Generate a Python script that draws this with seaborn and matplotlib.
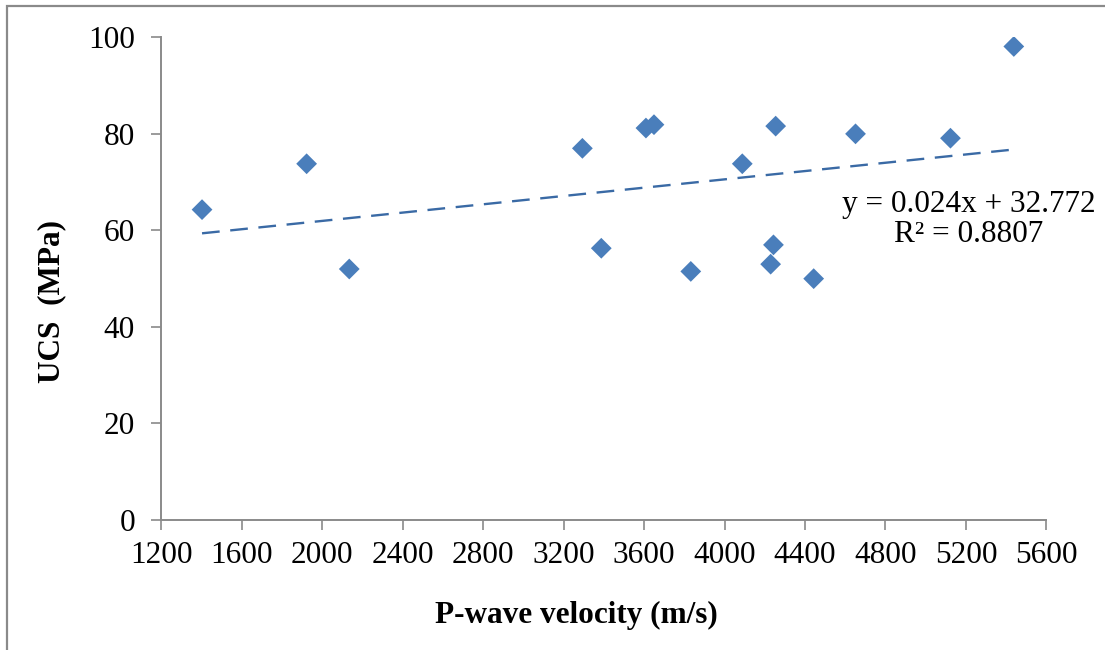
import numpy as np
import pandas as pd
import seaborn as sns
import matplotlib
matplotlib.use("Agg")
import matplotlib.pyplot as plt
from matplotlib.patches import Rectangle

# Data
vp = [1402, 1922, 2134, 3293, 3387, 3609, 3649, 3832, 4088, 4229, 4243, 4254, 4443, 4651, 5123, 5438]
ucs = [64.3, 73.8, 52.0, 77.0, 56.3, 81.2, 81.9, 51.5, 73.8, 53.0, 57.0, 81.6, 50.0, 80.0, 79.1, 98.1]
x_ticks = [1200, 1600, 2000, 2400, 2800, 3200, 3600, 4000, 4400, 4800, 5200, 5600]
y_ticks = [0, 20, 40, 60, 80, 100]
eq_text = "y = 0.024x + 32.772\nR\u00b2 = 0.8807"

df = pd.DataFrame({"vp": vp, "ucs": ucs})

sns.set_theme(style="white")
plt.rcParams["font.family"] = ["Liberation Serif", "DejaVu Serif"]
plt.rcParams["text.color"] = "black"
plt.rcParams["xtick.color"] = "black"
plt.rcParams["ytick.color"] = "black"
plt.rcParams["axes.labelcolor"] = "black"

W, H = 1105, 650
fig = plt.figure(figsize=(W / 100, H / 100), dpi=100)
left, right, top, bottom = 161.4, 1046.4, 37.3, 520.0
ax = fig.add_axes([left / W, 1 - bottom / H, (right - left) / W, (bottom - top) / H])

# outer chart border (only top and left visible in reference)
fig.patches.append(Rectangle((7 / W, -0.1), 1.2, 1 - 6 / H + 0.1, transform=fig.transFigure,
                             fill=False, edgecolor="#8a8a8a", linewidth=1.6, zorder=0))

sns.regplot(data=df, x="vp", y="ucs", ax=ax, ci=None, truncate=True, marker="D",
            scatter_kws=dict(s=112, color="#4a7ebb", edgecolors="none", alpha=1, zorder=3),
            line_kws=dict(color="#3a6aa5", linewidth=1.7, linestyle=(0, (7.5, 4.5)), zorder=2))

ax.set_xlim(1200, 5600)
ax.set_ylim(0, 100)
ax.set_xticks(x_ticks)
ax.set_yticks(y_ticks)
ax.tick_params(axis="both", direction="out", length=7, width=1.2, color="#8a8a8a",
               labelsize=22.5, left=True, bottom=True, labelcolor="black")
ax.tick_params(axis="x", pad=8)
ax.tick_params(axis="y", pad=12)
for s in ["top", "right"]:
    ax.spines[s].set_visible(False)
for s in ["left", "bottom"]:
    ax.spines[s].set_color("#8a8a8a")
    ax.spines[s].set_linewidth(1.4)

ax.set_xlabel("P-wave velocity (m/s)", fontsize=22.5, fontweight="bold")
ax.set_ylabel("UCS  (MPa)", fontsize=22.5, fontweight="bold")
ax.xaxis.set_label_coords((576 - left) / (right - left), -(601 - bottom) / (bottom - top))
ax.yaxis.set_label_coords(-(left - 66) / (right - left), (bottom - 301) / (bottom - top))

ax.text(5215, 62.3, eq_text, ha="center", va="center", fontsize=22.5, linespacing=1.05)

fig.savefig("out.png", dpi=100)
